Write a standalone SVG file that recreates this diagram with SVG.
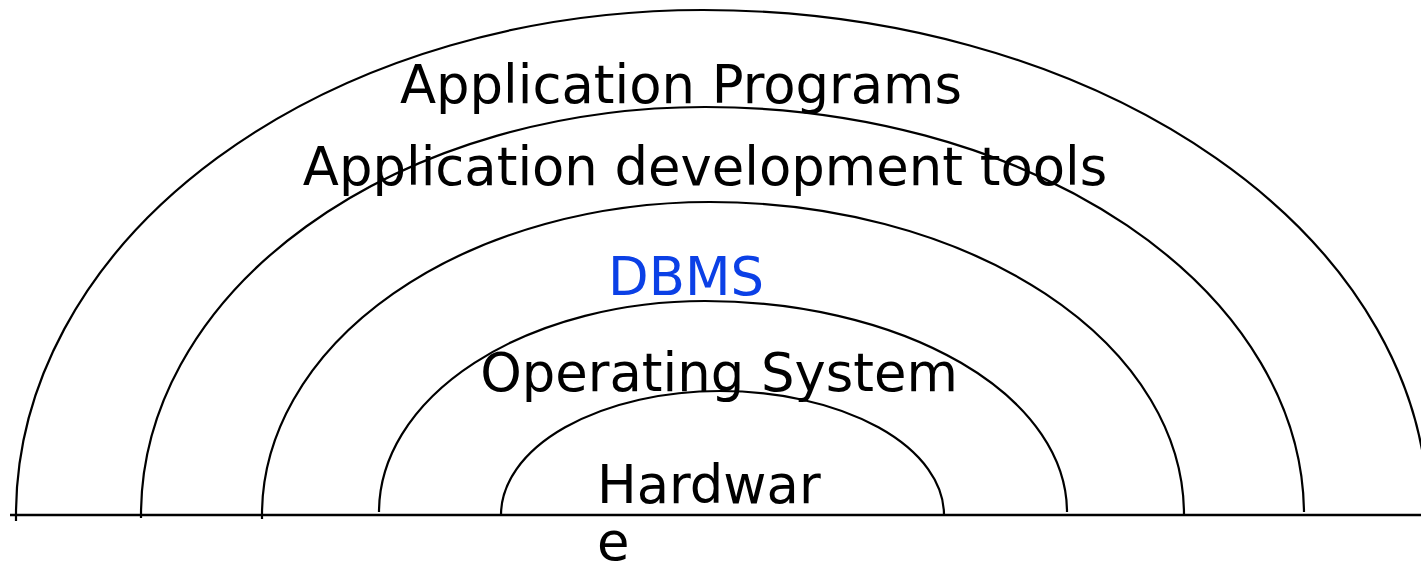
<svg xmlns="http://www.w3.org/2000/svg" width="1421" height="566" viewBox="0 0 1421 566">
  <style>
    .layer { fill: none; stroke: #000; stroke-width: 2.2; }
    .base { stroke: #000; stroke-width: 2.6; }
    .label { font-family: "DejaVu Sans", Verdana, sans-serif; font-size: 52.8px; fill: #000; }
    .dbms { fill: #0b40e6; }
  </style>
  <rect width="1421" height="566" fill="#fff"/>

  <!-- ground line that all the half-rings stand on -->
  <g id="connectors">
    <line class="base" x1="10" y1="515" x2="1421" y2="515"/>
  </g>

  <!-- nested half-rings, outermost first -->
  <g id="ring-application-programs">
    <path class="layer" d="M16,521 L16,515 A687,505 0 0 1 703,10 A725,505 0 0 1 1428,515"/>
    <text class="label" x="681" y="103" text-anchor="middle">Application Programs</text>
  </g>
  <g id="ring-development-tools">
    <path class="layer" d="M141,518 L141,515 A564,408 0 0 1 705,107 A599,408 0 0 1 1304,512"/>
    <text class="label" x="705" y="185" text-anchor="middle">Application development tools</text>
  </g>
  <g id="ring-dbms">
    <path class="layer" d="M262,519 L262,515 A448,313 0 0 1 710,202 A474,313 0 0 1 1184,515"/>
    <text class="label dbms" x="686" y="295" text-anchor="middle">DBMS</text>
  </g>
  <g id="ring-operating-system">
    <path class="layer" d="M379,512 A326,211 0 0 1 705,301 A362,211 0 0 1 1067,512"/>
    <text class="label" x="719" y="391" text-anchor="middle">Operating System</text>
  </g>
  <g id="ring-hardware">
    <path class="layer" d="M501,515 A219,124 0 0 1 720,391 A224,124 0 0 1 944,515"/>
    <text class="label" x="597" y="503">Hardwar</text>
    <text class="label" x="597" y="560">e</text>
  </g>
</svg>
